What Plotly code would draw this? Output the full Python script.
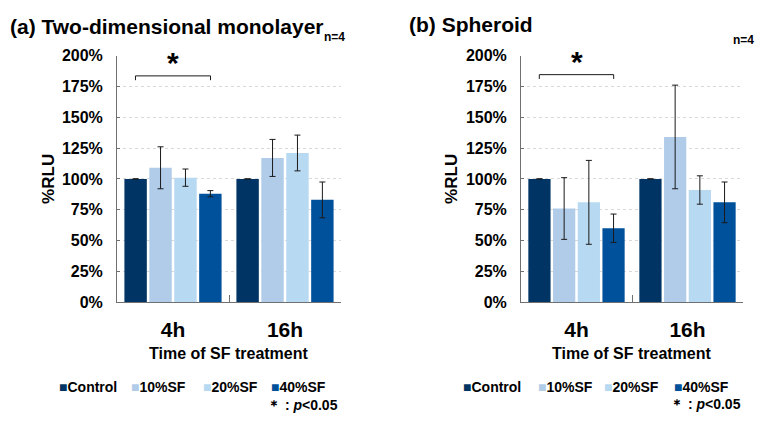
import plotly.graph_objects as go

# data
times = ["4h", "16h"]
groups = ["Control", "10%SF", "20%SF", "40%SF"]
colors = ["#003464", "#B1CCE9", "#B7D9F1", "#00519B"]

mono_vals = {"Control": [100, 100], "10%SF": [109, 117], "20%SF": [101, 121], "40%SF": [88, 83]}
mono_err = {"Control": [0, 0], "10%SF": [17, 15], "20%SF": [7, 14.5], "40%SF": [2.5, 14.5]}

sph_vals = {"Control": [100, 100], "10%SF": [76, 134], "20%SF": [81, 91], "40%SF": [60, 81]}
sph_err = {"Control": [0, 0], "10%SF": [25, 42], "20%SF": [34, 11.5], "40%SF": [11.5, 16.5]}

y_ticks = [0, 25, 50, 75, 100, 125, 150, 175, 200]
y_ticktext = [str(v) + "%" for v in y_ticks]

FONT = "Arial, Liberation Sans, sans-serif"

fig = go.Figure()

def add_panel(vals, errs, xa, ya):
	for g, c in zip(groups, colors):
		fig.add_trace(go.Bar(
			x=times, y=vals[g], name=g, showlegend=False,
			marker=dict(color=c, line=dict(width=0)),
			error_y=dict(type="data", array=errs[g], color="#1a1a1a",
				thickness=1, width=3),
			xaxis=xa, yaxis=ya))

add_panel(mono_vals, mono_err, "x", "y")
add_panel(sph_vals, sph_err, "x2", "y2")

y_dom = [(426 - 306.5) / 426, (426 - 49.5) / 426]

xaxis_style = dict(
	type="category", showline=True, linecolor="#707070", linewidth=1,
	ticks="inside", tickson="boundaries", ticklen=7, tickcolor="#707070",
	ticklabelstandoff=9, showgrid=False,
	tickfont=dict(family=FONT, size=21, color="black", weight="bold"))
yaxis_style = dict(
	range=[0, 200], tickvals=y_ticks, ticktext=y_ticktext,
	showline=True, linecolor="#707070", linewidth=1,
	ticks="inside", ticklen=3, tickcolor="#707070",
	ticklabelstandoff=10,
	showgrid=True, gridcolor="#D9D9D9", griddash="3px,3px", gridwidth=1,
	zeroline=False,
	tickfont=dict(family=FONT, size=16, color="black", weight="bold"))

fig.update_layout(
	width=774, height=426,
	margin=dict(l=0, r=0, t=0, b=0),
	paper_bgcolor="white", plot_bgcolor="white",
	barmode="group", bargap=0.11, bargroupgap=0.1,
	font=dict(family=FONT, color="black"),
	xaxis=dict(domain=[117 / 774, 341 / 774], anchor="y", **xaxis_style),
	yaxis=dict(domain=y_dom, anchor="x", **yaxis_style),
	xaxis2=dict(domain=[521 / 774, 743 / 774], anchor="y2", **xaxis_style),
	yaxis2=dict(domain=y_dom, anchor="x2", **yaxis_style),
)

# significance brackets
for xr, yr, top in [("x", "y", 183.5), ("x2", "y2", 184.5)]:
	fig.add_shape(type="path", xref=xr, yref=yr,
		path="M -0.335,%s L -0.335,%s L 0.335,%s L 0.335,%s" % (top - 3.5, top, top, top - 3.5),
		line=dict(color="#1a1a1a", width=1))
	fig.add_annotation(x=0, y=top - 4, xref=xr, yref=yr, text="*", showarrow=False,
		yanchor="bottom", font=dict(family=FONT, size=30, color="black", weight="bold"))

def txt(x, y, s, size, **kw):
	fig.add_annotation(x=x / 774, y=1 - y / 426, xref="paper", yref="paper", text=s,
		showarrow=False, font=dict(family=FONT, size=size, color="black", weight="bold"), **kw)

txt(8, 19, "(a) Two-dimensional monolayer", 21, xanchor="left", yanchor="middle")
txt(407, 17, "(b) Spheroid", 21, xanchor="left", yanchor="middle")
txt(334, 30, "n=4", 12, xanchor="center", yanchor="middle")
txt(743, 33, "n=4", 12, xanchor="center", yanchor="middle")
txt(229, 360, "Time of SF treatment", 16, xanchor="center", yanchor="middle")
txt(632, 360, "Time of SF treatment", 16, xanchor="center", yanchor="middle")
txt(49, 178, "%RLU", 17, xanchor="center", yanchor="middle", textangle=-90)
txt(452, 178, "%RLU", 17, xanchor="center", yanchor="middle", textangle=-90)
txt(340, 413, "＊ : <i>p</i>&lt;0.05", 14, xanchor="right", yanchor="middle")
txt(743, 412, "＊ : <i>p</i>&lt;0.05", 14, xanchor="right", yanchor="middle")

# legend rows (colour square + name)
legend_x_left = [57, 129, 201, 269]
legend_x_right = [461, 536, 602, 672]
for xs in (legend_x_left, legend_x_right):
	for x, g, c in zip(xs, groups, colors):
		txt(x, 395, "<span style='color:%s;font-size:14px'>■</span>%s" % (c, g), 14,
			xanchor="left", yanchor="middle")

fig.write_html("out.html", config={"displayModeBar": False},
	post_script="document.body.style.margin='0';document.documentElement.style.overflow='hidden';")
